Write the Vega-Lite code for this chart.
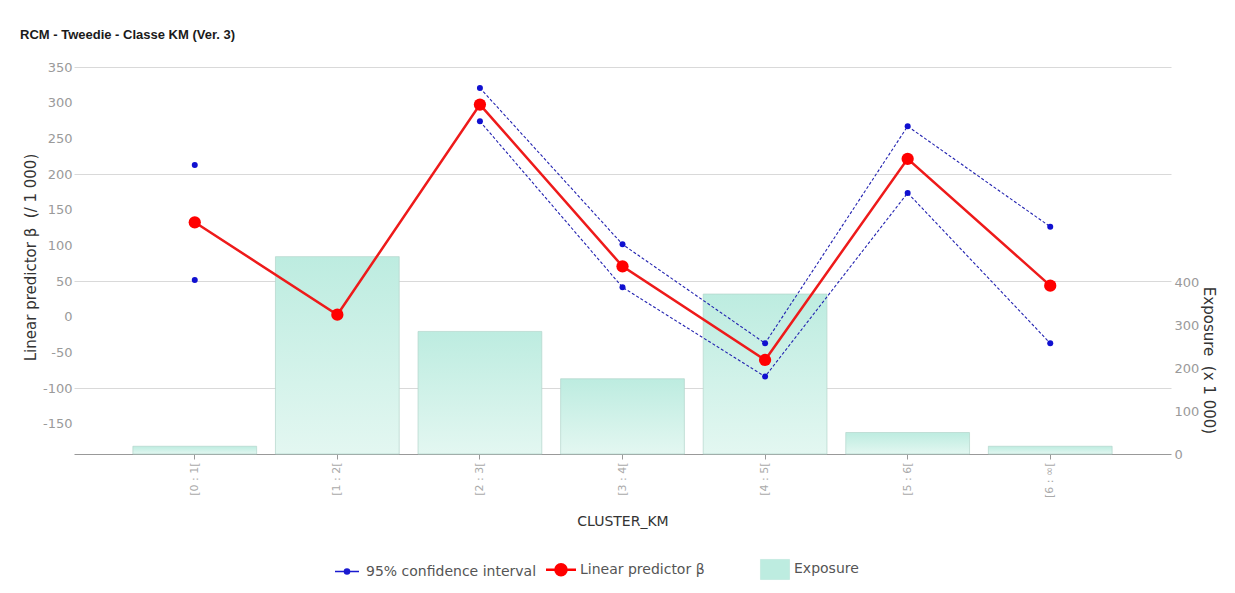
{
  "$schema": "https://vega.github.io/schema/vega-lite/v6.json",
  "autosize": {"type": "none"},
  "padding": {"left": 74, "top": 67, "right": 64, "bottom": 139},
  "width": 1097,
  "height": 387,
  "background": "white",
  "title": {"text": "RCM - Tweedie - Classe KM (Ver. 3)", "anchor": "start", "frame": "group", "dx": -54, "font": "Liberation Sans", "fontSize": 13, "fontWeight": "bold", "color": "#1a1a1a", "offset": 19},
  "config": {"view": {"stroke": null}, "axis": {"labelOverlap": false}},
  "data": {"values": [
    {"cat": "[0 : 1[", "beta": 132.3, "lo": 51.4, "hi": 212.7, "exposure": 18},
    {"cat": "[1 : 2[", "beta": 2.8, "lo": null, "hi": null, "exposure": 459},
    {"cat": "[2 : 3[", "beta": 297.3, "lo": 273.9, "hi": 320.6, "exposure": 285},
    {"cat": "[3 : 4[", "beta": 70.6, "lo": 41.2, "hi": 101.4, "exposure": 175},
    {"cat": "[4 : 5[", "beta": -60.7, "lo": -84, "hi": -37.3, "exposure": 372},
    {"cat": "[5 : 6[", "beta": 221.3, "lo": 173.5, "hi": 266.9, "exposure": 50},
    {"cat": "[6 : ∞[", "beta": 43.5, "lo": -37.3, "hi": 126.1, "exposure": 18}
  ]},
  "layer": [
    {
      "mark": {"type": "bar", "fill": {"gradient": "linear", "x1": 0, "y1": 1, "x2": 0, "y2": 0, "stops": [{"offset": 0, "color": "#e3f7f1"}, {"offset": 1, "color": "#bdece0"}]}, "stroke": "#b3d6cc", "strokeWidth": 0.7},
      "encoding": {
        "x": {"field": "cat", "type": "nominal", "sort": null, "scale": {"type": "band", "paddingInner": 0.132, "paddingOuter": 0.413},
          "axis": {"title": "CLUSTER_KM", "labelAngle": 270, "labelFont": "DejaVu Sans", "labelFontSize": 11, "labelColor": "#aaaaaa", "labelPadding": 3, "tickSize": 5, "tickColor": "#999999", "domainColor": "#999999", "titleFont": "DejaVu Sans", "titleFontSize": 14, "titleColor": "#333333", "titleFontWeight": "normal", "titleY": 67, "titleBaseline": "middle", "grid": false}},
        "y": {"field": "exposure", "type": "quantitative", "scale": {"domain": [0, 900], "nice": false, "zero": true},
          "axis": {"orient": "right", "title": "Exposure \u00a0(x 1 000)", "values": [0, 100, 200, 300, 400], "tickCount": 20, "labelOverlap": false, "ticks": false, "domain": false, "grid": false, "labelPadding": 3, "labelFont": "DejaVu Sans", "labelFontSize": 13, "labelColor": "#9a9a9a", "titleFont": "DejaVu Sans", "titleFontSize": 15, "titleColor": "#333333", "titleFontWeight": "normal", "titleAngle": 90, "titleX": 37, "titleY": 293, "titleAlign": "center", "titleBaseline": "middle"}}
      }
    },
    {
      "layer": [
        {
          "mark": {"type": "line", "color": "#2222b0", "strokeWidth": 1.1, "strokeDash": [3, 2]},
          "encoding": {
            "x": {"field": "cat", "type": "nominal", "sort": null},
            "y": {"field": "hi", "type": "quantitative", "title": "Linear predictor β \u00a0(/ 1 000)", "scale": {"domain": [-192.5, 350], "nice": false, "zero": false},
              "axis": {"values": [350, 300, 250, 200, 150, 100, 50, 0, -50, -100, -150], "tickCount": 20, "labelOverlap": false, "labelExpr": "replace(datum.label, '−', '-')", "domain": false, "ticks": false, "labelPadding": 2, "labelFont": "DejaVu Sans", "labelFontSize": 13, "labelColor": "#9a9a9a", "grid": true, "gridColor": "#d9d9d9", "gridOpacity": {"condition": {"test": "indexof([350, 200, 50, -100], datum.value) >= 0", "value": 1}, "value": 0}, "titleFont": "DejaVu Sans", "titleFontSize": 15, "titleColor": "#333333", "titleFontWeight": "normal", "titleX": -44, "titleY": 190, "titleAngle": 270, "titleAlign": "center", "titleBaseline": "middle"}}
          }
        },
        {
          "mark": {"type": "line", "color": "#2222b0", "strokeWidth": 1.1, "strokeDash": [3, 2]},
          "encoding": {
            "x": {"field": "cat", "type": "nominal", "sort": null},
            "y": {"field": "lo", "type": "quantitative", "title": "Linear predictor β \u00a0(/ 1 000)"}
          }
        },
        {
          "mark": {"type": "line", "color": "#ee1a1a", "strokeWidth": 2.5},
          "encoding": {
            "x": {"field": "cat", "type": "nominal", "sort": null},
            "y": {"field": "beta", "type": "quantitative", "title": "Linear predictor β \u00a0(/ 1 000)"}
          }
        },
        {
          "mark": {"type": "point", "filled": true, "color": "#1010d0", "size": 36, "opacity": 1},
          "encoding": {
            "x": {"field": "cat", "type": "nominal", "sort": null},
            "y": {"field": "hi", "type": "quantitative", "title": "Linear predictor β \u00a0(/ 1 000)"}
          }
        },
        {
          "mark": {"type": "point", "filled": true, "color": "#1010d0", "size": 36, "opacity": 1},
          "encoding": {
            "x": {"field": "cat", "type": "nominal", "sort": null},
            "y": {"field": "lo", "type": "quantitative", "title": "Linear predictor β \u00a0(/ 1 000)"}
          }
        },
        {
          "mark": {"type": "point", "filled": true, "color": "#ff0000", "size": 150, "opacity": 1},
          "encoding": {
            "x": {"field": "cat", "type": "nominal", "sort": null},
            "y": {"field": "beta", "type": "quantitative", "title": "Linear predictor β \u00a0(/ 1 000)"}
          }
        }
      ]
    },
    {
      "data": {"values": [{"series": "95% confidence interval"}, {"series": "Linear predictor β"}, {"series": "Exposure"}]},
      "mark": {"type": "point", "filled": true, "opacity": 0},
      "encoding": {
        "color": {"field": "series", "type": "nominal", "sort": null,
          "scale": {"domain": ["95% confidence interval", "Linear predictor β", "Exposure"], "range": ["#1a1ad0", "#ff0000", "#bdece0"]},
          "legend": {"title": null, "orient": "none", "legendX": 266, "legendY": 495, "direction": "horizontal", "gridAlign": "all", "columnPadding": 4, "symbolSize": 900, "labelFont": "DejaVu Sans", "labelFontSize": 14, "labelColor": "#555555", "labelOffset": 12, "labelLimit": 400, "symbolOpacity": 1,
            "encode": {"symbols": {"update": {
              "shape": {"signal": "datum.value === 'Exposure' ? 'M-0.97,-0.67L0.97,-0.67L0.97,0.67L-0.97,0.67Z' : (datum.value === 'Linear predictor β' ? 'M-1.0,0L1.0,0M-0.37,0A0.37,0.37,0,1,1,0.37,0A0.37,0.37,0,1,1,-0.37,0Z' : 'M-0.8,0L0.8,0M-0.17,0A0.17,0.17,0,1,1,0.17,0A0.17,0.17,0,1,1,-0.17,0Z')"},
              "fill": {"signal": "datum.value === 'Exposure' ? '#c4eee3' : (datum.value === 'Linear predictor β' ? '#ff0000' : '#1a1ad0')"},
              "stroke": {"signal": "datum.value === 'Exposure' ? '#b5e3d6' : (datum.value === 'Linear predictor β' ? '#ff0000' : '#1a1ad0')"},
              "strokeWidth": {"signal": "datum.value === 'Exposure' ? 0.5 : (datum.value === 'Linear predictor β' ? 2.5 : 1.5)"},
              "opacity": {"value": 1},
              "fillOpacity": {"value": 1},
              "strokeOpacity": {"value": 1}
            }}}}
        }
      }
    }
  ],
  "resolve": {"scale": {"y": "independent"}, "axis": {"y": "independent"}}
}
